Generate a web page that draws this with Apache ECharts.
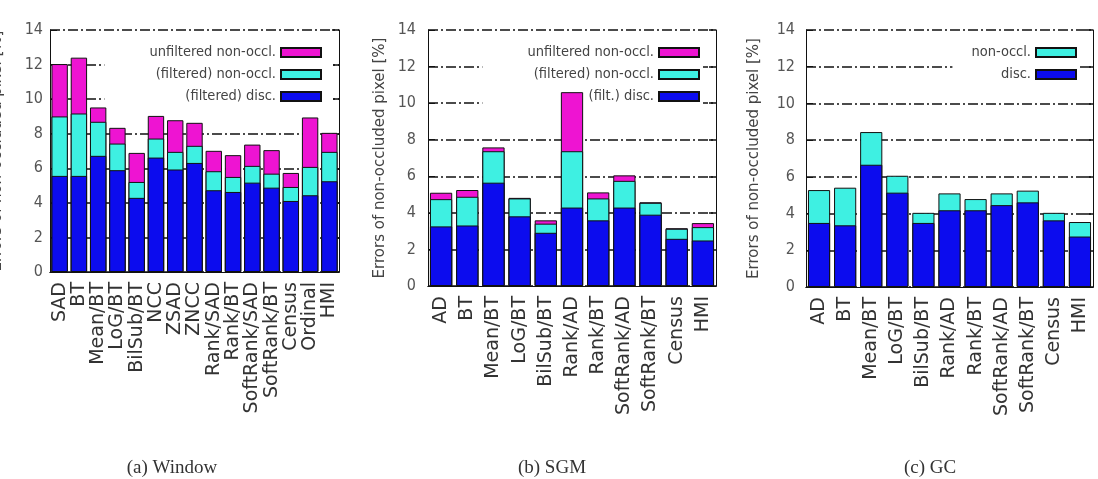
<!DOCTYPE html>
<html>
<head>
<meta charset="utf-8">
<script src="https://cdn.jsdelivr.net/npm/echarts@6/dist/echarts.min.js"></script>
<style>
  html, body { margin: 0; padding: 0; background: #fff; }
  #chart { width: 1098px; height: 479px; }
</style>
</head>
<body>
<div id="chart"></div>
<script>
const windowLabels = ['SAD', 'BT', 'Mean/BT', 'LoG/BT', 'BilSub/BT', 'NCC', 'ZSAD', 'ZNCC',
    'Rank/SAD', 'Rank/BT', 'SoftRank/SAD', 'SoftRank/BT', 'Census', 'Ordinal', 'HMI'];
const windowDisc = [5.56, 5.56, 6.72, 5.89, 4.29, 6.62, 5.93, 6.31, 4.73, 4.63, 5.17, 4.88, 4.11, 4.44, 5.25];
const windowNonOcc = [9.0, 9.17, 8.69, 7.43, 5.21, 7.72, 6.95, 7.30, 5.83, 5.50, 6.14, 5.69, 4.92, 6.08, 6.95];
const windowUnfilt = [12.03, 12.4, 9.52, 8.34, 6.89, 9.03, 8.78, 8.63, 7.01, 6.76, 7.37, 7.05, 5.73, 8.94, 8.05];

const sgmLabels = ['AD', 'BT', 'Mean/BT', 'LoG/BT', 'BilSub/BT', 'Rank/AD', 'Rank/BT',
    'SoftRank/AD', 'SoftRank/BT', 'Census', 'HMI'];
const sgmDisc = [3.26, 3.31, 5.65, 3.81, 2.91, 4.29, 3.59, 4.29, 3.90, 2.58, 2.49];
const sgmNonOcc = [4.75, 4.88, 7.37, 4.79, 3.41, 7.37, 4.79, 5.75, 4.55, 3.13, 3.22];
const sgmUnfilt = [5.10, 5.25, 7.58, 4.82, 3.59, 10.6, 5.12, 6.05, 4.58, 3.16, 3.44];

const gcLabels = ['AD', 'BT', 'Mean/BT', 'LoG/BT', 'BilSub/BT', 'Rank/AD', 'Rank/BT',
    'SoftRank/AD', 'SoftRank/BT', 'Census', 'HMI'];
const gcDisc = [3.49, 3.36, 6.66, 5.14, 3.49, 4.18, 4.18, 4.46, 4.61, 3.63, 2.75];
const gcNonOcc = [5.28, 5.41, 8.44, 6.06, 4.04, 5.10, 4.79, 5.10, 5.25, 4.04, 3.54];

const yTicks = { min: 0, max: 14, interval: 2 };

const MAGENTA = '#ee14d2';
const CYAN = '#3ef0e2';
const BLUE = '#0c0cee';
const narrow = "'Liberation Sans Narrow', 'DejaVu Sans Condensed', sans-serif";

const chart = echarts.init(document.getElementById('chart'));

const grids = [
    { left: 50, right: 759, top: 30, bottom: 207, outerBoundsMode: 'none' },
    { left: 428, right: 382, top: 30, bottom: 193, outerBoundsMode: 'none' },
    { left: 806, right: 5, top: 30, bottom: 192, outerBoundsMode: 'none' }
];
const panelLabels = [windowLabels, sgmLabels, gcLabels];
const nameGaps = [45, 40, 44];
const labelMargins = [7, 12, 11];

const xAxes = [];
const yAxes = [];
grids.forEach((g, i) => {
    xAxes.push({
        type: 'category',
        gridIndex: i,
        data: panelLabels[i],
        axisLine: { lineStyle: { color: '#111', width: 1 } },
        axisTick: { show: false },
        axisLabel: {
            interval: 0,
            rotate: 90,
            margin: 10,
            fontSize: 19,
            fontFamily: 'DejaVu Sans',
            color: '#333'
        }
    });
    // mirror ticks at the top of the frame
    xAxes.push({
        type: 'category',
        gridIndex: i,
        position: 'top',
        data: panelLabels[i],
        axisLine: { lineStyle: { color: '#111', width: 1 } },
        axisTick: { inside: true, length: 9, alignWithLabel: true, lineStyle: { color: '#111', width: 1.5 } },
        axisLabel: { show: false }
    });
    yAxes.push({
        type: 'value',
        gridIndex: i,
        min: yTicks.min,
        max: yTicks.max,
        interval: yTicks.interval,
        name: 'Errors of non-occluded pixel [%]',
        nameLocation: 'middle',
        nameGap: nameGaps[i],
        nameTextStyle: { fontSize: 15, fontFamily: 'DejaVu Sans', color: '#444' },
        axisLine: { show: true, lineStyle: { color: '#111', width: 1 } },
        axisTick: { show: true, inside: true, length: 7, lineStyle: { color: '#111' } },
        axisLabel: { margin: labelMargins[i], fontSize: 16, fontFamily: narrow, color: '#555' },
        splitLine: {
            show: true,
            lineStyle: { color: '#111', width: 1.5, type: [10, 3, 2, 3] }
        }
    });
    yAxes.push({
        type: 'value',
        gridIndex: i,
        position: 'right',
        min: yTicks.min,
        max: yTicks.max,
        interval: yTicks.interval,
        axisLine: { show: true, lineStyle: { color: '#111', width: 1 } },
        axisTick: { show: true, inside: true, length: 7, lineStyle: { color: '#111', width: 1.5 } },
        axisLabel: { show: false },
        splitLine: { show: false }
    });
});

function bar(name, data, color, panel) {
    return {
        name: name,
        type: 'bar',
        xAxisIndex: panel * 2,
        yAxisIndex: panel * 2,
        data: data,
        barGap: '-100%',
        barCategoryGap: '15%',
        z: 3,
        itemStyle: { color: color, borderColor: '#111', borderWidth: 1 },
        emphasis: { disabled: true }
    };
}

const series = [
    bar('unfiltered non-occl.', windowUnfilt, MAGENTA, 0),
    bar('(filtered) non-occl.', windowNonOcc, CYAN, 0),
    bar('(filtered) disc.', windowDisc, BLUE, 0),
    bar('unfiltered non-occl.', sgmUnfilt, MAGENTA, 1),
    bar('(filtered) non-occl.', sgmNonOcc, CYAN, 1),
    bar('(filt.) disc.', sgmDisc, BLUE, 1),
    bar('non-occl.', gcNonOcc, CYAN, 2),
    bar('disc.', gcDisc, BLUE, 2)
];

// key box sits above the grid lines but under the bars
function legend(names, right, padding) {
    return {
        data: names,
        orient: 'vertical',
        right: right,
        top: 40,
        z: 1,
        align: 'right',
        icon: 'rect',
        itemWidth: 40,
        itemHeight: 9,
        itemGap: 7,
        padding: padding,
        backgroundColor: '#fff',
        selectedMode: false,
        textStyle: { fontSize: 14.5, fontFamily: narrow, color: '#444' }
    };
}

const option = {
    animation: false,
    backgroundColor: '#fff',
    grid: grids,
    xAxis: xAxes,
    yAxis: yAxes,
    legend: [
        legend(['unfiltered non-occl.', '(filtered) non-occl.', '(filtered) disc.'], 765, [5, 11, 4, 45]),
        legend(['unfiltered non-occl.', '(filtered) non-occl.', '(filt.) disc.'], 395, [5, 3, 4, 45]),
        legend(['non-occl.', 'disc.'], 18, [5, 3, 4, 19])
    ],
    graphic: [
        { type: 'text', x: 172, y: 468, style: { text: '(a) Window', fontSize: 19, fontFamily: 'Liberation Serif', fill: '#333', textAlign: 'center', textVerticalAlign: 'middle' } },
        { type: 'text', x: 552, y: 468, style: { text: '(b) SGM', fontSize: 19, fontFamily: 'Liberation Serif', fill: '#333', textAlign: 'center', textVerticalAlign: 'middle' } },
        { type: 'text', x: 930, y: 468, style: { text: '(c) GC', fontSize: 19, fontFamily: 'Liberation Serif', fill: '#333', textAlign: 'center', textVerticalAlign: 'middle' } }
    ],
    series: series
};
chart.setOption(option);
</script>
</body>
</html>
